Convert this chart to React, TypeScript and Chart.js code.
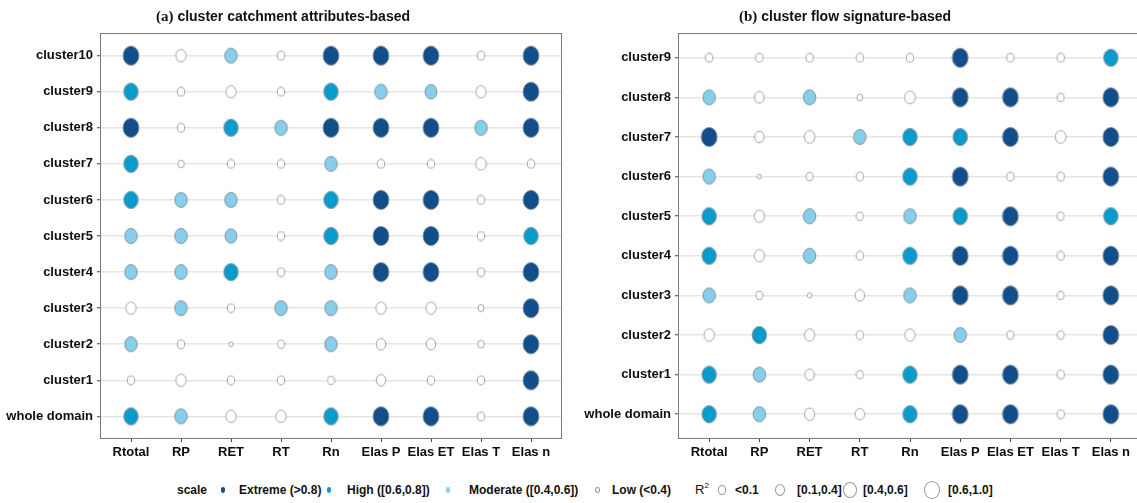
import React, { useEffect, useRef } from "react";
import { Chart, registerables } from "chart.js";
Chart.register(...registerables);

// ---------- data ----------
const columns = ["Rtotal", "RP", "RET", "RT", "Rn", "Elas P", "Elas ET", "Elas T", "Elas n"];

const rowsA = ["whole domain", "cluster1", "cluster2", "cluster3", "cluster4", "cluster5", "cluster6", "cluster7", "cluster8", "cluster9", "cluster10"];
const rowsB = ["whole domain", "cluster1", "cluster2", "cluster3", "cluster4", "cluster5", "cluster6", "cluster7", "cluster8", "cluster9"];

// (a) cluster catchment attributes-based: R² per variable (Rtotal..Elas n)
const aWhole = [0.7, 0.5, 0.3, 0.3, 0.7, 0.9, 0.9, 0.12, 0.9];
const aC1 = [0.12, 0.3, 0.12, 0.12, 0.1, 0.25, 0.12, 0.12, 0.9];
const aC2 = [0.5, 0.12, 0.01, 0.1, 0.5, 0.25, 0.25, 0.08, 0.9];
const aC3 = [0.3, 0.5, 0.12, 0.5, 0.5, 0.3, 0.3, 0.06, 0.9];
const aC4 = [0.5, 0.5, 0.7, 0.12, 0.5, 0.9, 0.9, 0.12, 0.9];
const aC5 = [0.5, 0.5, 0.45, 0.12, 0.7, 0.9, 0.9, 0.12, 0.7];
const aC6 = [0.7, 0.5, 0.5, 0.12, 0.7, 0.9, 0.9, 0.12, 0.9];
const aC7 = [0.7, 0.08, 0.12, 0.12, 0.5, 0.12, 0.12, 0.33, 0.12];
const aC8 = [0.9, 0.12, 0.7, 0.5, 0.9, 0.9, 0.9, 0.5, 0.9];
const aC9 = [0.7, 0.12, 0.3, 0.12, 0.7, 0.5, 0.45, 0.3, 0.9];
const aC10 = [0.9, 0.3, 0.5, 0.12, 0.9, 0.9, 0.9, 0.12, 0.9];

// (b) cluster flow signature-based
const bWhole = [0.7, 0.5, 0.3, 0.25, 0.7, 0.9, 0.9, 0.12, 0.9];
const bC1 = [0.7, 0.5, 0.25, 0.1, 0.7, 0.9, 0.9, 0.12, 0.9];
const bC2 = [0.3, 0.7, 0.3, 0.12, 0.3, 0.5, 0.1, 0.1, 0.9];
const bC3 = [0.5, 0.1, 0.02, 0.25, 0.5, 0.9, 0.9, 0.1, 0.9];
const bC4 = [0.7, 0.3, 0.5, 0.12, 0.7, 0.9, 0.9, 0.12, 0.9];
const bC5 = [0.7, 0.3, 0.5, 0.1, 0.5, 0.7, 0.9, 0.1, 0.7];
const bC6 = [0.5, 0.01, 0.1, 0.12, 0.7, 0.9, 0.12, 0.12, 0.9];
const bC7 = [0.9, 0.25, 0.33, 0.5, 0.7, 0.7, 0.9, 0.33, 0.9];
const bC8 = [0.5, 0.25, 0.5, 0.05, 0.33, 0.9, 0.9, 0.1, 0.9];
const bC9 = [0.12, 0.12, 0.12, 0.12, 0.12, 0.9, 0.12, 0.12, 0.7];

const r2A = [aWhole, aC1, aC2, aC3, aC4, aC5, aC6, aC7, aC8, aC9, aC10];
const r2B = [bWhole, bC1, bC2, bC3, bC4, bC5, bC6, bC7, bC8, bC9];

const scaleLabels = ["Extreme (>0.8)", "High ([0.6,0.8])", "Moderate ([0.4,0.6])", "Low (<0.4)"];
const r2Labels = ["<0.1", "[0.1,0.4]", "[0.4,0.6]", "[0.6,1.0]"];

// ---------- styles ----------
const SANS = "'Liberation Sans', Arial, Helvetica, sans-serif";
const SERIF = "'Liberation Serif', 'Times New Roman', serif";
const C_EXTREME = "#124e8a";
const C_HIGH = "#0a9bcd";
const C_MOD = "#87ceeb";
const C_LOW = "#ffffff";

function fillFor(v: number) {
  if (v > 0.8) return C_EXTREME;
  if (v >= 0.6) return C_HIGH;
  if (v >= 0.4) return C_MOD;
  return C_LOW;
}
function dims(v: number) {
  const h = 3 + 17 * Math.sqrt(v);
  return { w: h * 0.83, h };
}
const dotCache = new Map<number, HTMLCanvasElement>();
function dotStyle(v: number) {
  const hit = dotCache.get(v);
  if (hit) return hit;
  const { w, h } = dims(v);
  const cw = Math.ceil(w) + 2;
  const ch = Math.ceil(h) + 2;
  const c = document.createElement("canvas");
  c.width = cw;
  c.height = ch;
  const g = c.getContext("2d")!;
  g.beginPath();
  g.ellipse(cw / 2, ch / 2, w / 2, h / 2, 0, 0, Math.PI * 2);
  g.fillStyle = fillFor(v);
  g.fill();
  g.lineWidth = 0.9;
  g.strokeStyle = v >= 0.4 ? "#7d8a96" : "#9a9a9a";
  g.stroke();
  dotCache.set(v, c);
  return c;
}

const framePlugin = {
  id: "frame",
  afterDraw(chart: any) {
    const { ctx, chartArea } = chart;
    const { left, top, right, bottom } = chartArea;
    ctx.save();
    ctx.strokeStyle = "#7a7a7a";
    ctx.lineWidth = 1;
    ctx.strokeRect(Math.round(left) - 0.5, Math.round(top) - 0.5, Math.round(right - left) + 1, Math.round(bottom - top) + 1);
    ctx.restore();
  },
};

type PanelProps = {
  left: number;
  width: number;
  rows: string[];
  values: number[][];
  yAxisWidth: number;
  padRight: number;
};

function Panel({ left, width, rows, values, yAxisWidth, padRight }: PanelProps) {
  const ref = useRef<HTMLCanvasElement>(null);
  useEffect(() => {
    const points: any[] = [];
    values.forEach((row, ri) => {
      row.forEach((v, ci) => {
        points.push({ x: ci + 1, y: ri + 1, r2: v });
      });
    });
    const tickFont = { family: SANS, size: 13, weight: "bold" as const };
    const chart = new Chart(ref.current!, {
      type: "scatter",
      data: {
        datasets: [
          {
            data: points,
            pointRadius: 5,
            pointBorderWidth: 0,
            pointStyle: (ctx: any) => dotStyle(ctx.raw ? ctx.raw.r2 : 0.1),
          } as any,
        ],
      },
      options: {
        animation: false,
        responsive: false,
        maintainAspectRatio: false,
        events: [],
        layout: { padding: { top: 34, right: padRight, left: 0, bottom: 0 } },
        plugins: { legend: { display: false }, tooltip: { enabled: false }, title: { display: false } },
        scales: {
          x: {
            type: "linear",
            min: 0.4,
            max: columns.length + 0.6,
            afterBuildTicks: (ax: any) => {
              ax.ticks = columns.map((_, i) => ({ value: i + 1 }));
            },
            afterFit: (ax: any) => {
              ax.height = 32;
            },
            ticks: {
              callback: (v: any) => columns[Math.round(Number(v)) - 1] ?? "",
              font: tickFont,
              color: "#0d0d0d",
              padding: 3,
              maxRotation: 0,
              autoSkip: false,
            },
            grid: { drawOnChartArea: false, tickLength: 4, tickColor: "#444444", color: "#444444" },
            border: { display: false },
          },
          y: {
            type: "linear",
            min: 0.4,
            max: rows.length + 0.6,
            afterBuildTicks: (ax: any) => {
              ax.ticks = rows.map((_, i) => ({ value: i + 1 }));
            },
            afterFit: (ax: any) => {
              ax.width = yAxisWidth;
            },
            ticks: {
              callback: (v: any) => rows[Math.round(Number(v)) - 1] ?? "",
              font: tickFont,
              color: "#0d0d0d",
              padding: 4,
              autoSkip: false,
            },
            grid: { color: "#e6e6e6", lineWidth: 1.5, tickLength: 4, tickColor: "#444444", tickWidth: 1 },
            border: { display: false },
          },
        },
      } as any,
      plugins: [framePlugin],
    });
    return () => chart.destroy();
  }, []);
  return (
    <canvas
      ref={ref}
      width={width}
      height={470}
      style={{ position: "absolute", left, top: 0, width, height: 470 }}
    />
  );
}

function Ellipse({ cx, cy, w, h, fill, stroke }: { cx: number; cy: number; w: number; h: number; fill: string; stroke: string }) {
  return (
    <div
      style={{
        position: "absolute",
        left: cx - w / 2,
        top: cy - h / 2,
        width: w,
        height: h,
        boxSizing: "border-box",
        borderRadius: "50%",
        background: fill,
        border: `1px solid ${stroke}`,
      }}
    />
  );
}

const legendText: React.CSSProperties = {
  position: "absolute",
  top: 483,
  fontFamily: SANS,
  fontSize: 12,
  fontWeight: "bold",
  lineHeight: "14px",
  color: "#111",
  whiteSpace: "nowrap",
};

export default function App() {
  const scaleDotX = [223, 329, 448, 597];
  const scaleTextX = [239, 347, 469, 612];
  const scaleColors = [C_EXTREME, C_HIGH, C_MOD, C_LOW];
  const r2KeyX = [722, 780, 850, 932];
  const r2TextX = [735, 797, 863, 948];
  const r2KeyW = [8, 10, 14, 16];
  return (
    <div
      style={{
        position: "absolute",
        left: 0,
        top: 0,
        width: 1137,
        height: 503,
        overflow: "hidden",
        background: "#ffffff",
      }}
    >
      <Panel left={0} width={570} rows={rowsA} values={r2A} yAxisWidth={101} padRight={9} />
      <Panel left={570} width={580} rows={rowsB} values={r2B} yAxisWidth={109} padRight={9} />

      <div style={{ position: "absolute", left: 156, top: 7, whiteSpace: "nowrap", fontFamily: SANS, fontSize: 14, fontWeight: "bold", lineHeight: "18px", color: "#111" }}>
        <span style={{ fontFamily: SERIF, fontSize: 15 }}>(a)</span> cluster catchment attributes-based
      </div>
      <div style={{ position: "absolute", left: 739, top: 7, whiteSpace: "nowrap", fontFamily: SANS, fontSize: 14, fontWeight: "bold", lineHeight: "18px", color: "#111" }}>
        <span style={{ fontFamily: SERIF, fontSize: 15 }}>(b)</span> cluster flow signature-based
      </div>

      {/* legend: scale */}
      <div style={{ ...legendText, left: 177 }}>scale</div>
      {scaleLabels.map((t, i) => (
        <React.Fragment key={t}>
          <Ellipse cx={scaleDotX[i]} cy={490} w={i === 3 ? 5 : 4.5} h={i === 3 ? 6 : 5.5} fill={scaleColors[i]} stroke={i === 3 ? "#999999" : scaleColors[i]} />
          <div style={{ ...legendText, left: scaleTextX[i] }}>{t}</div>
        </React.Fragment>
      ))}

      {/* legend: R² */}
      <div style={{ ...legendText, left: 695, fontWeight: "normal", fontSize: 13 }}>
        R<span style={{ fontSize: 8, position: "relative", top: -6 }}>2</span>
      </div>
      {r2Labels.map((t, i) => (
        <React.Fragment key={t}>
          <Ellipse cx={r2KeyX[i]} cy={490} w={r2KeyW[i]} h={r2KeyW[i] * 1.15} fill="#ffffff" stroke="#9a9a9a" />
          <div style={{ ...legendText, left: r2TextX[i] }}>{t}</div>
        </React.Fragment>
      ))}
    </div>
  );
}
